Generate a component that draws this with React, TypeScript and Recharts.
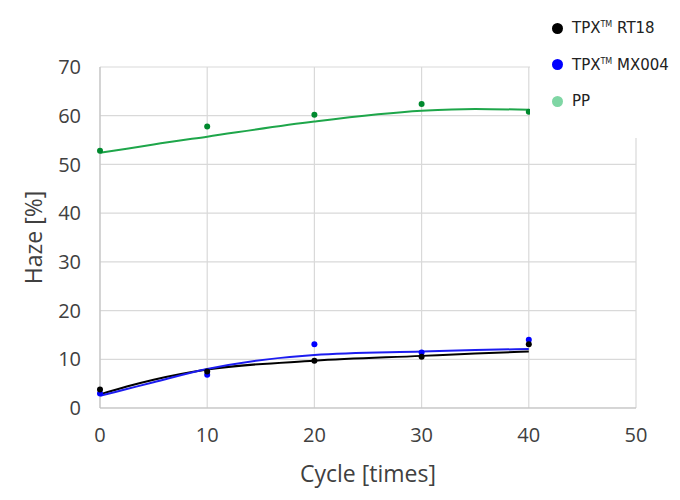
import React from "react";
import {
  ComposedChart,
  Line,
  Scatter,
  XAxis,
  YAxis,
  CartesianGrid,
  Legend
} from "recharts";

// measured haze per cycle count
const cycles = [0, 10, 20, 30, 40];
const rt18Haze = [3.8, 7.5, 9.7, 10.5, 13.1];
const mx004Haze = [3.0, 6.8, 13.1, 11.4, 14.0];
const ppHaze = [52.8, 57.8, 60.2, 62.4, 60.8];

// approximation curves
const trendCycles = [0, 2.5, 5, 10, 20, 30, 35, 40];
const rt18Trend = [2.8, 4.4, 5.8, 7.9, 9.7, 10.7, 11.2, 11.6];
const mx004Trend = [2.5, 3.9, 5.3, 8.0, 10.9, 11.6, 11.9, 12.1];
const ppTrend = [52.4, 53.2, 54.1, 55.7, 58.8, 61.0, 61.4, 61.2];

const xTicks = [0, 10, 20, 30, 40, 50];
const yTicks = [0, 10, 20, 30, 40, 50, 60, 70];

const toPoints = (xs: number[], ys: number[]) => xs.map((x, i) => ({ x, y: ys[i] }));

const rt18Points = toPoints(cycles, rt18Haze);
const mx004Points = toPoints(cycles, mx004Haze);
const ppPoints = toPoints(cycles, ppHaze);
const rt18Curve = toPoints(trendCycles, rt18Trend);
const mx004Curve = toPoints(trendCycles, mx004Trend);
const ppCurve = toPoints(trendCycles, ppTrend);

const legendItems = [
  { name: "TPX", tm: true, suffix: "RT18", color: "#000000" },
  { name: "TPX", tm: true, suffix: "MX004", color: "#0000ff" },
  { name: "PP", tm: false, suffix: "", color: "#7fd6a4" }
];

const textColor = "#404040";
const tickFont = { fontFamily: "'Open Sans', sans-serif", fontSize: 20, fill: textColor };

const dotShape = (color: string) => (props: any) => (
  <circle cx={props.cx} cy={props.cy} r={3} fill={color} />
);

const renderLegend = () => (
  <div style={{ position: "relative", width: "100%", height: "100%" }}>
    {legendItems.map((item, i) => (
      <div
        key={i}
        style={{
          position: "absolute",
          left: 22,
          top: 28 + i * 36.5 - 10,
          height: 20,
          display: "flex",
          alignItems: "center",
          fontFamily: "'DejaVu Sans', Verdana, sans-serif",
          fontSize: 15,
          color: "#222"
        }}
      >
        <span
          style={{
            display: "inline-block",
            width: 11,
            height: 11,
            borderRadius: "50%",
            background: item.color,
            marginRight: 9
          }}
        />
        <span>
          {item.name}
          {item.tm && <sup style={{ fontSize: 8, verticalAlign: "6px" }}>TM</sup>}
          {item.suffix ? " " + item.suffix : ""}
        </span>
      </div>
    ))}
  </div>
);

const App: React.FC = () => {
  return (
    <div style={{ position: "absolute", left: 0, top: 0, width: 680, height: 500, background: "#fff" }}>
      <ComposedChart
        width={680}
        height={500}
        margin={{ top: 67, right: 44, left: 0, bottom: 0 }}
      >
        <CartesianGrid stroke="#d9d9d9" strokeWidth={1.2} />
        <XAxis
          dataKey="x"
          type="number"
          domain={[0, 50]}
          ticks={xTicks}
          height={92}
          stroke="#bfbfbf"
          tickLine={false}
          tickSize={0}
          tickMargin={20}
          tick={tickFont}
          label={{
            value: "Cycle [times]",
            position: "insideBottom",
            offset: 18,
            fontFamily: "'Open Sans', sans-serif",
            fontSize: 23,
            fill: textColor
          }}
        />
        <YAxis
          dataKey="y"
          type="number"
          domain={[0, 70]}
          ticks={yTicks}
          width={100}
          stroke="#bfbfbf"
          tickLine={false}
          tickSize={0}
          tickMargin={19}
          tick={tickFont}
          label={{
            value: "Haze [%]",
            angle: -90,
            position: "insideLeft",
            offset: 34,
            textAnchor: "middle",
            fontFamily: "'Open Sans', sans-serif",
            fontSize: 23,
            fill: textColor
          }}
        />
        <Legend
          layout="vertical"
          align="center"
          verticalAlign="middle"
          content={renderLegend}
          wrapperStyle={{ left: 530, top: 0, width: 150, height: 138, background: "#fff" }}
        />
        <Line
          data={ppCurve}
          dataKey="y"
          type="monotone"
          stroke="#1ea64a"
          strokeWidth={2}
          dot={false}
          isAnimationActive={false}
          legendType="none"
        />
        <Line
          data={rt18Curve}
          dataKey="y"
          type="monotone"
          stroke="#000000"
          strokeWidth={2}
          dot={false}
          isAnimationActive={false}
          legendType="none"
        />
        <Line
          data={mx004Curve}
          dataKey="y"
          type="monotone"
          stroke="#1c1cf0"
          strokeWidth={2}
          dot={false}
          isAnimationActive={false}
          legendType="none"
        />
        <Scatter data={ppPoints} dataKey="y" shape={dotShape("#00892e")} isAnimationActive={false} />
        <Scatter data={mx004Points} dataKey="y" shape={dotShape("#0000ff")} isAnimationActive={false} />
        <Scatter data={rt18Points} dataKey="y" shape={dotShape("#000000")} isAnimationActive={false} />
      </ComposedChart>
    </div>
  );
};

export default App;
